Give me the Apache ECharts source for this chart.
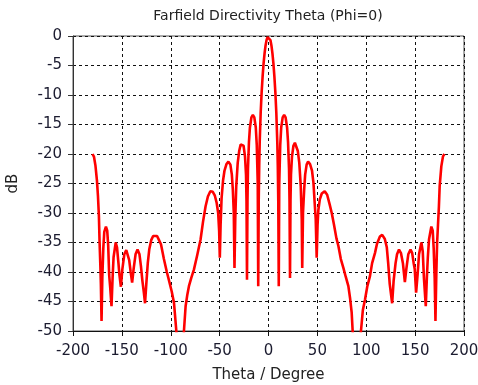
<!DOCTYPE html>
<html>
<head>
<meta charset="utf-8">
<script src="https://cdn.jsdelivr.net/npm/echarts@6/dist/echarts.min.js"></script>
<style>
html,body{margin:0;padding:0;background:#fff;}
#chart{width:478px;height:385px;}
</style>
</head>
<body>
<div id="chart"></div>
<script>
var chartTitle = 'Farfield Directivity Theta (Phi=0)';
var xAxisName = 'Theta / Degree';
var yAxisName = 'dB';
var xTicks = [-200, -150, -100, -50, 0, 50, 100, 150, 200];
var yTicks = [-50, -45, -40, -35, -30, -25, -20, -15, -10, -5, 0];

var thetaDeg = [
-180,-178.5,-177,-175.5,-174.5,-173.5,-172.8,-172,-171.5,-170.8,-170,-169,-168,-166.3,-165,-164,-163,-162,-160.6,-159.5,
-158.5,-156.3,-155,-153.5,-152.5,-151,-149.5,-147.5,-145.5,-144,-142.5,-141,-139.5,-138,-136,-134,-132,-130.5,-129,-127.5,
-126.3,-125,-123.5,-122,-120,-118,-116,-114,-112,-110,-107,-104,-102,-99,-96.7,-94.3,-92,-90,-88,-86.5,
-84.8,-83,-81.4,-79,-76.3,-73,-69.5,-67,-64.4,-62,-59.5,-57,-55,-53,-51.5,-50.5,-49.8,-49,-48,-46.5,
-45,-43,-41,-39,-37.5,-36.5,-35.5,-34.8,-34,-33,-31.5,-30,-28.5,-27,-25.5,-24,-23,-22.5,-22,-21.5,
-21,-20,-19,-17.5,-16,-14.5,-13,-12,-11,-10.5,-10,-9.5,-9,-8,-7,-6,-5,-4,-3,-2,-1,0,
1,2,3,4,5,6,7,8,9,9.5,10,10.5,11,12,13,14.5,16,17.5,19,20,21,21.5,22,22.5,23,24,25.5,27,28.5,30,
31.5,33,34,34.5,35.3,36.5,37.5,39,40.5,42.5,44.5,46,47.5,48.3,49.3,50.2,51,52.5,54.5,57.5,
60,62.5,64.7,67,69.5,71.5,74,76.6,79,81.7,83.5,85.1,86.1,88,90,92,94.6,96.5,98.7,101,
103.8,106,108.9,111,114,116.3,119,121,122.4,124,126.5,128,130,131.5,133.5,135.5,137.5,139.5,141,143,
145.3,147,148.5,149.6,151,152.5,154,156.4,157.8,159,160.9,162,163,164.2,166.6,168,169,170,170.8,171.7,
172.5,173.4,174.3,175.1,176.8,178.5,180
];

var directivityDb = [
-20,-20.5,-22,-24.5,-27,-30.5,-35,-39,-42,-48.3,-41,-36,-33.2,-32.3,-33,-35.5,-40.5,-42.5,-45.8,-41,
-37.5,-35,-35.8,-38.5,-40.5,-42.5,-39.5,-37,-36.3,-36.6,-38,-40,-41.8,-39.5,-37,-36.2,-37,-39,-41.5,-43.5,
-45.3,-42,-38.5,-36.2,-34.6,-33.9,-33.6,-33.9,-34.6,-35.3,-37.8,-40,-41.3,-43.3,-45.2,-50,-55,-58,-55,-50,
-45.8,-43.8,-42.4,-41,-39.6,-37.2,-34.5,-31.5,-28.9,-27.2,-26.3,-26.4,-27,-28.3,-30,-33,-37.6,-32,-27.5,-24.5,
-22.8,-21.7,-21.3,-21.8,-23.5,-26,-30,-39.3,-31,-25.5,-21.5,-19.5,-18.4,-18.1,-18.6,-20.5,-23.5,-28,-41.3,-28,
-22.5,-18,-15.5,-13.8,-13.4,-13.8,-15.5,-18.5,-25,-42.4,-28,-22,-18,-13,-9.5,-6.8,-4.6,-2.9,-1.6,-0.7,-0.2,0,
-0.2,-0.7,-1.6,-2.9,-4.6,-6.8,-9.5,-13,-18,-22,-28,-42.4,-25,-18.5,-15.5,-13.8,-13.4,-13.8,-15.5,-18,-22.5,-28,-41,-28,-23.5,-20.5,-18.6,-18.1,-18.4,-19.5,
-21.5,-25.5,-31,-39.3,-30,-26,-23.5,-21.8,-21.3,-21.7,-22.8,-24.9,-29,-31,-37.6,-32,-29.5,-27.7,-26.7,-26.3,
-26.9,-28.5,-30,-32,-34.3,-35.6,-37.8,-39.3,-40.8,-42.4,-44.5,-46.9,-50,-55,-58,-55,-50,-46.5,-44.7,-42.5,
-40.7,-38.5,-36.8,-35.2,-34,-33.7,-34.4,-35.8,-38.4,-42,-45.3,-41.5,-38.5,-37,-36.2,-36.8,-38.5,-41.7,-39.5,-37,
-36.2,-36.8,-38.5,-39.5,-43.5,-40.5,-37,-35,-36.5,-41,-45.8,-41,-37.5,-34.5,-32.3,-33,-36,-41,-48.3,-40.2,
-35,-32,-29,-25.5,-22.1,-20.4,-20
];

var seriesData = thetaDeg.map(function (t, i) { return [t, directivityDb[i]]; });

var chart = echarts.init(document.getElementById('chart'), null, {renderer: 'canvas'});
var labelColor = '#1c1c30';
var fontFam = 'DejaVu Sans';

chart.setOption({
  animation: false,
  backgroundColor: '#ffffff',
  title: {
    text: chartTitle,
    left: 268,
    textAlign: 'center',
    top: 9,
    padding: 0,
    textStyle: {fontFamily: fontFam, fontSize: 14, fontWeight: 'normal', color: '#222222'}
  },
  grid: {
    left: 73, right: 14, top: 36, bottom: 54,
    containLabel: false,
    outerBoundsMode: 'none',
    show: true, borderColor: '#555555', borderWidth: 1, backgroundColor: 'transparent'
  },
  xAxis: {
    type: 'value',
    min: xTicks[0], max: xTicks[xTicks.length - 1], interval: 50,
    name: xAxisName, nameLocation: 'middle', nameGap: 37,
    nameTextStyle: {fontFamily: fontFam, fontSize: 15, color: '#222222'},
    axisLine: {show: true, onZero: false, lineStyle: {color: '#111', width: 1}},
    axisTick: {show: true, length: 5, inside: false, lineStyle: {color: '#111'}},
    axisLabel: {fontFamily: fontFam, fontSize: 15, color: labelColor, margin: 13},
    splitLine: {show: true, lineStyle: {color: '#111', type: [3, 3], width: 1}}
  },
  yAxis: {
    type: 'value',
    min: yTicks[0], max: yTicks[yTicks.length - 1], interval: 5,
    name: yAxisName, nameLocation: 'middle', nameGap: 52,
    nameTextStyle: {fontFamily: fontFam, fontSize: 15, color: '#222222'},
    axisLine: {show: true, onZero: false, lineStyle: {color: '#333', width: 1}},
    axisTick: {show: true, length: 5, inside: false, lineStyle: {color: '#333'}},
    axisLabel: {fontFamily: fontFam, fontSize: 15, color: labelColor, margin: 11},
    splitLine: {show: true, lineStyle: {color: '#111', type: [3, 3], width: 1}}
  },
  series: [{
    type: 'line',
    data: seriesData,
    showSymbol: false,
    symbol: 'none',
    clip: true,
    smooth: false,
    lineStyle: {color: '#ff0000', width: 2.6},
    z: 5
  }]
});
</script>
</body>
</html>
